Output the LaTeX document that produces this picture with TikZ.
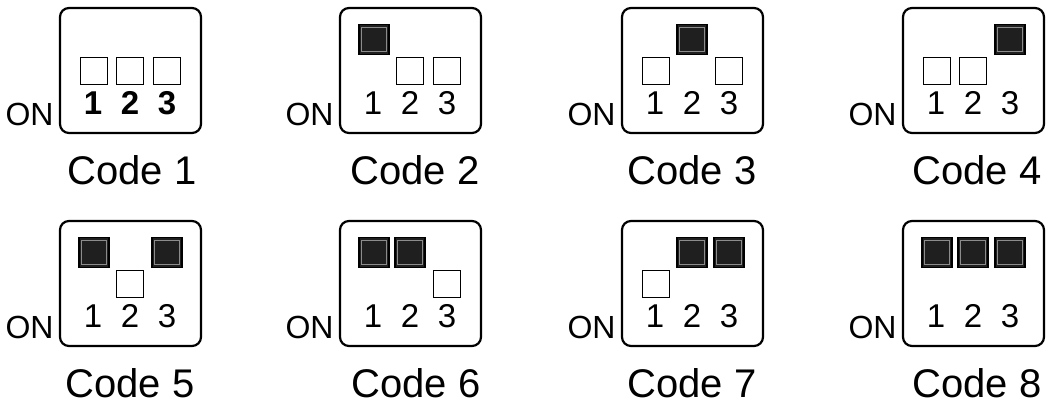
\documentclass[tikz,border=0pt]{standalone}
\usepackage{fontspec}
\setmainfont{Liberation Sans}

\begin{document}
\begin{tikzpicture}
    [
      x=0.5pt, y=-0.5pt,
      dipbox/.style={draw,line width=1.1pt,rounded corners=4.5pt,minimum width=70.5pt,minimum height=62.5pt},
      swoff/.style={draw,line width=0.9pt,fill=white,minimum size=13.5pt,inner sep=0pt},
      swon/.style={draw,line width=0.6pt,fill=black!88,minimum size=15pt,inner sep=0pt,yshift=15.75pt,
        path picture={\draw [black!45,line width=0.5pt]
          ([shift={(1.3pt,1.3pt)}]path picture bounding box.south west) rectangle
          ([shift={(-1.3pt,-1.3pt)}]path picture bounding box.north east);}},
      num/.style={font=\fontsize{16.5}{16.5}\selectfont,inner sep=0pt},
      numbold/.style={font=\fontsize{16.5}{16.5}\selectfont\bfseries,inner sep=0pt},
      onlabel/.style={font=\fontsize{16}{16}\selectfont,inner sep=0pt,anchor=east},
      codelabel/.style={font=\fontsize{20}{20}\selectfont,inner sep=0pt},
    ]

    \useasboundingbox (0,0) rectangle (1046,405);

    % code / box corner / caption / switches / digit font
    \foreach \code/\X/\Y/\cx/\cy/\sa/\sb/\sc/\nf in {
      1/60/8/132/170/swoff/swoff/swoff/numbold,
      2/340/8/415/170/swon/swoff/swoff/num,
      3/622/8/692/170/swoff/swon/swoff/num,
      4/903/8/977/170/swoff/swoff/swon/num,
      5/60/221/130/383/swon/swoff/swon/num,
      6/340/221/416/383/swon/swon/swoff/num,
      7/622/221/692/383/swoff/swon/swon/num,
      8/903/221/977/383/swon/swon/swon/num}
    {
      \node (box\code) [dipbox] at (\X+70.5,\Y+62.5) {};
      \node (sw\code-1) [\sa] at (\X+34,\Y+63) {};
      \node (sw\code-2) [\sb] at (\X+70,\Y+63) {};
      \node (sw\code-3) [\sc] at (\X+107,\Y+63) {};
      \node (n\code-1) [\nf] at (\X+33,\Y+95) {1};
      \node (n\code-2) [\nf] at (\X+70,\Y+95) {2};
      \node (n\code-3) [\nf] at (\X+107,\Y+95) {3};
      \node (on\code) [onlabel] at (\X-6,\Y+106) {ON};
      \node (code\code) [codelabel] at (\cx,\cy) {Code \code};
    }

\end{tikzpicture}
\end{document}
